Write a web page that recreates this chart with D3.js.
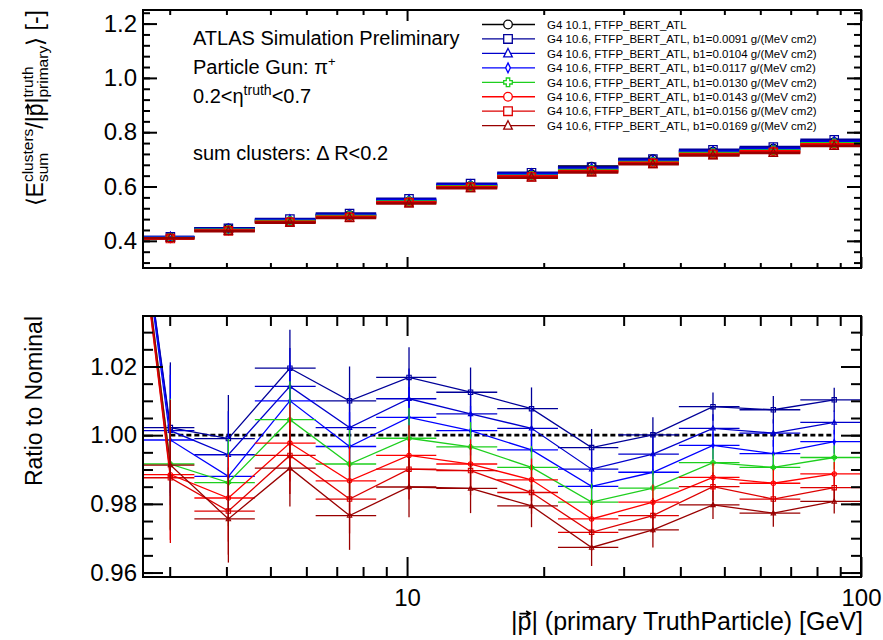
<!DOCTYPE html>
<html>
<head>
<meta charset="utf-8">
<script src="https://cdn.jsdelivr.net/npm/d3@7"></script>
<style>
  body { margin: 0; background: #fff; }
  text { font-family: "Liberation Sans", Arial, Helvetica, sans-serif; fill: #000; }
</style>
</head>
<body>
<div id="chart"></div>
<script>
// Bins in |p| [GeV] (first bin lies left of the visible range)
var binLow  = [1.84, 2.5, 3.40, 4.62, 6.29, 8.55, 11.6, 15.8, 21.5, 29.2, 39.7, 54.0, 73.5];
var binHigh = [2.5, 3.40, 4.62, 6.29, 8.55, 11.6, 15.8, 21.5, 29.2, 39.7, 54.0, 73.5, 100];
var binX    = [2.17, 3.01, 4.04, 5.52, 7.47, 10.1, 13.8, 18.8, 25.5, 34.8, 47.2, 64.1, 87.3];

// nominal <E/p> (G4 10.1)
var nominalResponse = [0.37, 0.4136, 0.4466, 0.471, 0.4954, 0.5457, 0.603, 0.646, 0.674, 0.701, 0.729, 0.740, 0.764];

// ratio to nominal for each b1 value
var ratioNominal = [null, 1, 1, 1, 1, 1, 1, 1, 1, 1, 1, 1, 1];
var ratioB0091 = [1.140, 1.0022, 0.9990, 1.0195, 1.0100, 1.0168, 1.0125, 1.0077, 0.9964, 1.0001, 1.0083, 1.0074, 1.0103];
var ratioB0104 = [1.141, 1.0013, 0.9943, 1.0142, 1.0022, 1.0106, 1.0062, 1.0020, 0.9901, 0.9945, 1.0020, 1.0006, 1.0037];
var ratioB0117 = [1.141, 0.9986, 0.9880, 1.0100, 0.9967, 1.0052, 1.0013, 0.9957, 0.9851, 0.9892, 0.9970, 0.9946, 0.9981];
var ratioB0130 = [1.142, 0.9916, 0.9862, 1.0045, 0.9916, 0.9991, 0.9966, 0.9906, 0.9805, 0.9846, 0.9920, 0.9906, 0.9935];
var ratioB0143 = [1.143, 0.9885, 0.9817, 0.9977, 0.9867, 0.9941, 0.9916, 0.9870, 0.9756, 0.9805, 0.9877, 0.9860, 0.9887];
var ratioB0156 = [1.143, 0.9876, 0.9779, 0.9941, 0.9814, 0.9901, 0.9897, 0.9833, 0.9717, 0.9766, 0.9850, 0.9814, 0.9847];
var ratioB0169 = [1.144, 0.9913, 0.9756, 0.9904, 0.9766, 0.9849, 0.9845, 0.9794, 0.9673, 0.9724, 0.9797, 0.9773, 0.9807];
var ratioErr   = [0.050, 0.019, 0.0127, 0.0112, 0.0100, 0.0088, 0.0072, 0.0062, 0.0054, 0.0051, 0.0041, 0.0040, 0.0035];

var seriesNames = [
  "G4 10.1, FTFP_BERT_ATL",
  "G4 10.6, FTFP_BERT_ATL, b1=0.0091 g/(MeV cm2)",
  "G4 10.6, FTFP_BERT_ATL, b1=0.0104 g/(MeV cm2)",
  "G4 10.6, FTFP_BERT_ATL, b1=0.0117 g/(MeV cm2)",
  "G4 10.6, FTFP_BERT_ATL, b1=0.0130 g/(MeV cm2)",
  "G4 10.6, FTFP_BERT_ATL, b1=0.0143 g/(MeV cm2)",
  "G4 10.6, FTFP_BERT_ATL, b1=0.0156 g/(MeV cm2)",
  "G4 10.6, FTFP_BERT_ATL, b1=0.0169 g/(MeV cm2)"
];
var seriesRatios = [ratioNominal, ratioB0091, ratioB0104, ratioB0117, ratioB0130, ratioB0143, ratioB0156, ratioB0169];
var seriesColors = ["#000000", "#000099", "#0000cc", "#0000ff", "#1ecf1e", "#ff0000", "#dd0000", "#990000"];
var seriesMarkers = ["circle", "square", "triangle", "diamond", "cross", "circle", "square", "triangle"];

var topTicks = [0.4, 0.6, 0.8, 1.0, 1.2];
var ratioTicks = [0.96, 0.98, 1.00, 1.02];
var xMajorTicks = [10, 100];
var xMinorTicks = [3, 4, 5, 6, 7, 8, 9, 20, 30, 40, 50, 60, 70, 80, 90];

var W = 883, H = 640;
var left = 143, right = 861;
var top1 = 10, bot1 = 268;
var top2 = 316, bot2 = 577;

var svg = d3.select("#chart").append("svg")
  .attr("width", W).attr("height", H);

var x = d3.scaleLog().domain([2.62, 100]).range([left, right]);
var yTop = d3.scaleLinear().domain([0.3, 1.25]).range([bot1, top1]);
var yRat = d3.scaleLinear().domain([0.9587, 1.0347]).range([bot2, top2]);

function markerPath(type, r) {
  if (type == "circle") return "M" + (-r) + ",0A" + r + "," + r + " 0 1,0 " + r + ",0A" + r + "," + r + " 0 1,0 " + (-r) + ",0Z";
  if (type == "square") return "M" + (-r) + "," + (-r) + "H" + r + "V" + r + "H" + (-r) + "Z";
  if (type == "triangle") return "M0," + (-r * 1.15) + "L" + r + "," + (r * 0.8) + "L" + (-r) + "," + (r * 0.8) + "Z";
  if (type == "diamond") return "M0," + (-r * 1.15) + "L" + (r * 0.55) + ",0L0," + (r * 1.15) + "L" + (-r * 0.55) + ",0Z";
  var a = r * 0.4;
  return "M" + (-a) + "," + (-r) + "H" + a + "V" + (-a) + "H" + r + "V" + a + "H" + a + "V" + r +
         "H" + (-a) + "V" + a + "H" + (-r) + "V" + (-a) + "H" + (-a) + "Z";
}

var defs = svg.append("defs");
defs.append("clipPath").attr("id", "clipTop").append("rect")
  .attr("x", left).attr("y", top1).attr("width", right - left).attr("height", bot1 - top1);
defs.append("clipPath").attr("id", "clipRat").append("rect")
  .attr("x", left).attr("y", top2).attr("width", right - left).attr("height", bot2 - top2);

// ---------- upper panel ----------
var gTop = svg.append("g").attr("clip-path", "url(#clipTop)");

seriesRatios.forEach(function(rat, s) {
  var pts = binX.map(function(d, i) {
    var r = rat[i] == null ? 1 : rat[i];
    return { lo: binLow[i], hi: binHigh[i], x: d, y: nominalResponse[i] * r };
  });
  var g = gTop.append("g");
  g.selectAll("line").data(pts).enter().append("line")
    .attr("x1", function(d) { return x(d.lo); })
    .attr("x2", function(d) { return x(d.hi); })
    .attr("y1", function(d) { return yTop(d.y); })
    .attr("y2", function(d) { return yTop(d.y); })
    .attr("stroke", seriesColors[s]).attr("stroke-width", 2.5);
  g.selectAll("path").data(pts).enter().append("path")
    .attr("d", markerPath(seriesMarkers[s], 4.2))
    .attr("transform", function(d) { return "translate(" + x(d.x) + "," + yTop(d.y) + ")"; })
    .attr("fill", "none").attr("stroke", seriesColors[s]).attr("stroke-width", 1.2);
});

// ---------- ratio panel ----------
var gRat = svg.append("g").attr("clip-path", "url(#clipRat)");

gRat.append("path")
  .datum(binX.map(function(d, i) { return { x: d, y: ratioNominal[i] }; }))
  .attr("d", d3.line().defined(function(d) { return d.y != null; })
    .x(function(d) { return x(d.x); }).y(function(d) { return yRat(d.y); }))
  .attr("fill", "none").attr("stroke", "#000").attr("stroke-width", 2.6)
  .attr("stroke-dasharray", "5,3");

seriesRatios.forEach(function(rat, s) {
  if (s == 0) return;
  var pts = binX.map(function(d, i) {
    return { lo: binLow[i], hi: binHigh[i], x: d, y: rat[i], e: ratioErr[i] };
  });
  var g = gRat.append("g");
  var col = seriesColors[s];
  g.append("path").datum(pts)
    .attr("d", d3.line().x(function(d) { return x(d.x); }).y(function(d) { return yRat(d.y); }))
    .attr("fill", "none").attr("stroke", col).attr("stroke-width", 1.3);
  g.selectAll(".hbar").data(pts).enter().append("line")
    .attr("x1", function(d) { return x(d.lo); })
    .attr("x2", function(d) { return x(d.hi); })
    .attr("y1", function(d) { return yRat(d.y); })
    .attr("y2", function(d) { return yRat(d.y); })
    .attr("stroke", col).attr("stroke-width", 1.3);
  g.selectAll(".vbar").data(pts).enter().append("line")
    .attr("x1", function(d) { return x(d.x); })
    .attr("x2", function(d) { return x(d.x); })
    .attr("y1", function(d) { return yRat(d.y - d.e); })
    .attr("y2", function(d) { return yRat(d.y + d.e); })
    .attr("stroke", col).attr("stroke-width", 1.3);
  g.selectAll(".mk").data(pts).enter().append("path")
    .attr("d", markerPath(seriesMarkers[s], 2.2))
    .attr("transform", function(d) { return "translate(" + x(d.x) + "," + yRat(d.y) + ")"; })
    .attr("fill", "none").attr("stroke", col).attr("stroke-width", 1.1);
});

// ---------- axes ----------
function styleAxis(g) {
  g.select(".domain").remove();
  g.selectAll("line").attr("stroke", "#000").attr("stroke-width", 2);
  g.selectAll("text").style("font-size", "24px")
    .style("font-family", '"Liberation Sans", Arial, sans-serif');
}

function frameAxes(yScale, t, b, majV, minV, majLen, minLen, xMajLen, xMinLen, fmt, xLabels) {
  svg.append("g").attr("transform", "translate(" + left + ",0)")
    .call(d3.axisLeft(yScale).tickValues(minV).tickSize(-minLen).tickFormat("")).call(styleAxis);
  svg.append("g").attr("transform", "translate(" + left + ",0)")
    .call(d3.axisLeft(yScale).tickValues(majV).tickSize(-majLen).tickPadding(6).tickFormat(d3.format(fmt))).call(styleAxis);
  svg.append("g").attr("transform", "translate(" + right + ",0)")
    .call(d3.axisRight(yScale).tickValues(minV).tickSize(-minLen).tickFormat("")).call(styleAxis);
  svg.append("g").attr("transform", "translate(" + right + ",0)")
    .call(d3.axisRight(yScale).tickValues(majV).tickSize(-majLen).tickFormat("")).call(styleAxis);

  svg.append("g").attr("transform", "translate(0," + t + ")")
    .call(d3.axisTop(x).tickValues(xMinorTicks).tickSize(-xMinLen).tickFormat("")).call(styleAxis);
  svg.append("g").attr("transform", "translate(0," + t + ")")
    .call(d3.axisTop(x).tickValues(xMajorTicks).tickSize(-xMajLen).tickFormat("")).call(styleAxis);
  svg.append("g").attr("transform", "translate(0," + b + ")")
    .call(d3.axisBottom(x).tickValues(xMinorTicks).tickSize(-xMinLen).tickFormat("")).call(styleAxis);
  svg.append("g").attr("transform", "translate(0," + b + ")")
    .call(d3.axisBottom(x).tickValues(xMajorTicks).tickSize(-xMajLen).tickPadding(12)
      .tickFormat(xLabels ? d3.format("d") : "")).call(styleAxis);

  svg.append("rect").attr("x", left).attr("y", t)
    .attr("width", right - left).attr("height", b - t)
    .attr("fill", "none").attr("stroke", "#000").attr("stroke-width", 2);
}

frameAxes(yTop, top1, bot1, topTicks, d3.range(0.32, 1.25, 0.04), 14, 7, 11, 5, ".1f", false);
frameAxes(yRat, top2, bot2, ratioTicks, d3.range(0.96, 1.0349, 0.005), 20, 10, 20, 10, ".2f", true);

// ---------- rich text helper ----------
function richText(g, parts) {
  var cx = 0;
  parts.forEach(function(p) {
    var items = p.stack ? p.stack : [p];
    var w = 0;
    items.forEach(function(s) {
      var t = g.append("text").attr("x", cx).attr("y", s.dy || 0)
        .style("font-size", s.size + "px").text(s.t);
      var tw = t.node().getComputedTextLength();
      if (s.arrow) {
        var ay = -s.size * 0.66, x0 = cx + s.size * 0.08, x1 = cx + tw - s.size * 0.05;
        g.append("path")
          .attr("d", "M" + x0 + "," + ay + "H" + x1 + "M" + (x1 - s.size * 0.16) + "," + (ay - s.size * 0.1) +
                "L" + x1 + "," + ay + "L" + (x1 - s.size * 0.16) + "," + (ay + s.size * 0.1))
          .attr("fill", "none").attr("stroke", "#000").attr("stroke-width", s.size * 0.07);
      }
      w = Math.max(w, tw);
    });
    cx += w;
  });
  return cx;
}

// y title, upper panel
var ytG = svg.append("g");
var ytW = richText(ytG, [
  { t: "\u27E8 ", size: 23 },
  { t: "E", size: 23 },
  { stack: [{ t: "clusters", size: 15.5, dy: -10 }, { t: "sum", size: 15.5, dy: 5 }] },
  { t: "/|", size: 23 },
  { t: "p", size: 23, arrow: true },
  { t: "|", size: 23 },
  { stack: [{ t: "truth", size: 15.5, dy: -10 }, { t: "primary", size: 15.5, dy: 5 }] },
  { t: " \u27E9 [-]", size: 23 }
]);
ytG.attr("transform", "translate(43," + (top1 + ytW) + ") rotate(-90)");

// y title, ratio panel
svg.append("text")
  .attr("transform", "translate(42," + top2 + ") rotate(-90)")
  .attr("text-anchor", "end")
  .style("font-size", "23px")
  .text("Ratio to Nominal");

// x title
var xtG = svg.append("g");
var xtW = richText(xtG, [
  { t: "|", size: 25 },
  { t: "p", size: 25, arrow: true },
  { t: "| (primary TruthParticle) [GeV]", size: 25 }
]);
xtG.attr("transform", "translate(" + (863 - xtW) + ",630)");

// ---------- labels ----------
var lab = svg.append("g").style("font-size", "20px");
lab.append("text").attr("x", 193).attr("y", 45).text("ATLAS Simulation Preliminary");
var l2 = lab.append("text").attr("x", 193).attr("y", 74);
l2.append("tspan").text("Particle Gun: \u03C0");
l2.append("tspan").attr("dy", -8).style("font-size", "13px").text("+");
var l3 = lab.append("text").attr("x", 193).attr("y", 103);
l3.append("tspan").text("0.2<\u03B7");
l3.append("tspan").attr("dy", -8).style("font-size", "14px").text("truth");
l3.append("tspan").attr("dy", 8).text("<0.7");
lab.append("text").attr("x", 193).attr("y", 160).text("sum clusters: \u0394 R<0.2");

// ---------- legend ----------
var leg = svg.append("g");
seriesNames.forEach(function(name, i) {
  var yy = 24.5 + i * 14.45;
  leg.append("line").attr("x1", 482).attr("x2", 535).attr("y1", yy).attr("y2", yy)
    .attr("stroke", seriesColors[i]).attr("stroke-width", 1.3);
  leg.append("path").attr("d", markerPath(seriesMarkers[i], 4.3))
    .attr("transform", "translate(508," + yy + ")")
    .attr("fill", "#fff").attr("stroke", seriesColors[i]).attr("stroke-width", 1.3);
  leg.append("text").attr("x", 547).attr("y", yy + 4.2)
    .style("font-size", "11.5px").text(name);
});
</script>
</body>
</html>
